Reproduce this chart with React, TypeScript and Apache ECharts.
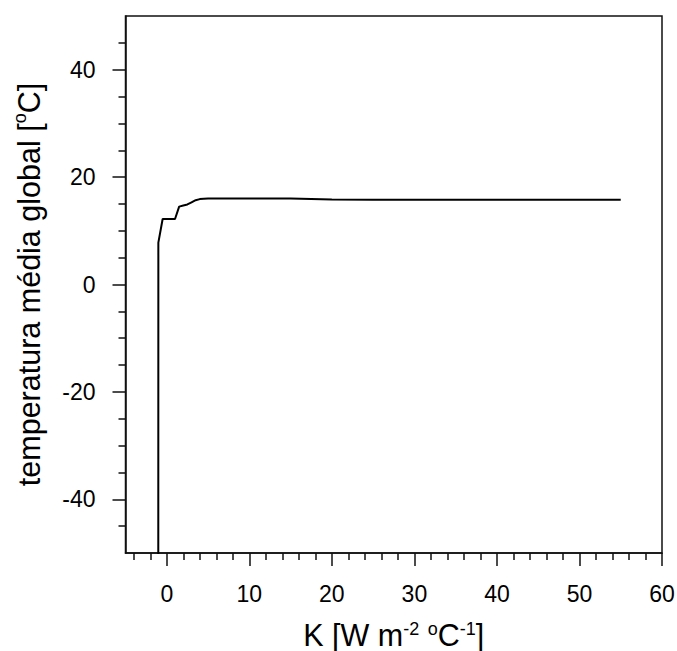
import React, { useEffect, useRef } from "react";
import * as echarts from "echarts";

// K [W m-2 ºC-1]
const kValues = [-1.03, -1.02, -0.5, 0, 0.5, 1.0, 1.5, 2.0, 2.5, 3.0, 3.5, 4.0, 5.0, 10, 15, 20, 25, 30, 40, 50, 55];
// temperatura média global [ºC]
const tempValues = [-60, 7.8, 12.2, 12.2, 12.2, 12.2, 14.5, 14.7, 14.9, 15.3, 15.7, 15.9, 16.0, 16.0, 16.0, 15.85, 15.8, 15.8, 15.8, 15.8, 15.8];

const xMajorTicks = [0, 10, 20, 30, 40, 50, 60];
const xMinorTicks = [-4, -2, 2, 4, 6, 8, 12, 14, 16, 18, 22, 24, 26, 28, 32, 34, 36, 38, 42, 44, 46, 48, 52, 54, 56, 58];
const yMajorTicks = [-40, -20, 0, 20, 40];
const yMinorTicks = [-45, -35, -30, -25, -15, -10, -5, 5, 10, 15, 25, 30, 35, 45];

const FONT = "'Liberation Sans', Arial, Helvetica, sans-serif";

export default function App() {
  const ref = useRef<HTMLDivElement>(null);
  useEffect(() => {
    if (!ref.current) return;
    const chart = echarts.init(ref.current, null, { renderer: "svg" });
    const data = kValues.map((k, i) => [k, tempValues[i]]);
    const xTitleRich = {
      n: { fontSize: 30.5, fontFamily: FONT, color: "#000", lineHeight: 30, verticalAlign: "bottom" as const },
      s: { fontSize: 18, fontFamily: FONT, color: "#000", lineHeight: 18, verticalAlign: "top" as const },
    };
    const yTitleRich = {
      n: { fontSize: 30.5, fontFamily: FONT, color: "#000", lineHeight: 34, verticalAlign: "bottom" as const },
      s: { fontSize: 18, fontFamily: FONT, color: "#000", lineHeight: 18, verticalAlign: "top" as const },
    };
    const baseX = {
      type: "value" as const,
      min: -5,
      max: 60,
      position: "bottom" as const,
      splitLine: { show: false },
    };
    const baseY = {
      type: "value" as const,
      min: -50,
      max: 50,
      position: "left" as const,
      splitLine: { show: false },
    };
    chart.setOption({
      animation: false,
      backgroundColor: "#fff",
      grid: {
        left: 125.5,
        top: 16,
        width: 536.5,
        height: 537,
        outerBoundsMode: "none",
        containLabel: false,
        show: true,
        borderColor: "#111",
        borderWidth: 1.5,
        backgroundColor: "transparent",
      },
      xAxis: [
        {
          ...baseX,
          name: "{n|K [W m}{s|-2}{n| }{s|o}{n|C}{s|-1}{n|]}",
          nameLocation: "middle",
          nameGap: 67,
          nameTextStyle: { rich: xTitleRich },
          axisLine: { show: true, onZero: false, lineStyle: { color: "#111", width: 1.5 } },
          axisTick: {
            show: true,
            inside: false,
            length: 13,
            customValues: xMajorTicks,
            lineStyle: { color: "#111", width: 1.5 },
          },
          axisLabel: {
            show: true,
            customValues: xMajorTicks,
            margin: 29,
            fontSize: 23,
            fontFamily: FONT,
            color: "#000",
          },
        },
        {
          ...baseX,
          axisLine: { show: false, onZero: false },
          axisTick: {
            show: true,
            inside: false,
            length: 7,
            customValues: xMinorTicks,
            lineStyle: { color: "#111", width: 1.5 },
          },
          axisLabel: { show: false },
        },
      ],
      yAxis: [
        {
          ...baseY,
          name: "{n|temperatura média global [}{s|o}{n|C]}",
          nameLocation: "middle",
          nameGap: 81,
          nameRotate: 90,
          nameTextStyle: { rich: yTitleRich },
          axisLine: { show: true, onZero: false, lineStyle: { color: "#111", width: 1.5 } },
          axisTick: {
            show: true,
            inside: false,
            length: 13,
            customValues: yMajorTicks,
            lineStyle: { color: "#111", width: 1.5 },
          },
          axisLabel: {
            show: true,
            customValues: yMajorTicks,
            margin: 30,
            fontSize: 23,
            fontFamily: FONT,
            color: "#000",
          },
        },
        {
          ...baseY,
          axisLine: { show: false, onZero: false },
          axisTick: {
            show: true,
            inside: false,
            length: 7,
            customValues: yMinorTicks,
            lineStyle: { color: "#111", width: 1.5 },
          },
          axisLabel: { show: false },
        },
      ],
      series: [
        {
          type: "line",
          xAxisIndex: 0,
          yAxisIndex: 0,
          data,
          showSymbol: false,
          clip: true,
          lineStyle: { color: "#000", width: 2 },
        },
      ],
    });
    return () => chart.dispose();
  }, []);
  return (
    <div
      ref={ref}
      style={{ position: "fixed", left: 0, top: 0, width: 677, height: 651, background: "#fff" }}
    />
  );
}
